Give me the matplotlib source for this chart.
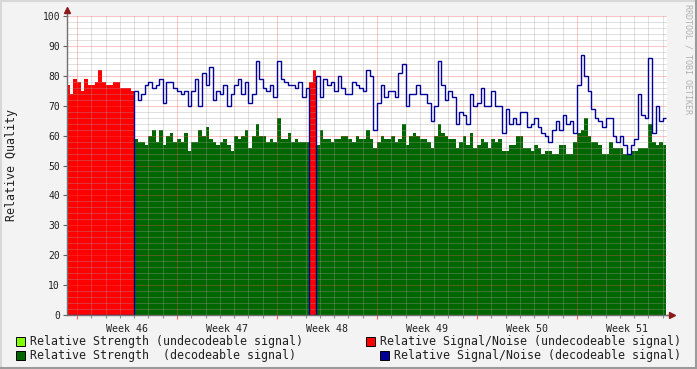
import numpy as np
import matplotlib
matplotlib.use('Agg')
import matplotlib.pyplot as plt
import matplotlib.ticker as mticker
from matplotlib.patches import Rectangle
from matplotlib.lines import Line2D

# samples every 6 hours, day 0 = Monday of week 46
T_START = -0.75
STEP = 0.25

snr = [
    77, 74, 79, 78, 75, 79, 77, 77, 78, 82, 78, 77, 77, 78, 78, 76, 76, 76, 75,
    75, 72, 74, 77, 78, 76, 77, 79, 71, 78, 78, 76, 75, 74, 75, 70, 75, 79, 70, 81,
    77, 83, 72, 75, 74, 77, 70, 74, 77, 79, 74, 78, 71, 74, 85, 79, 76, 75, 77, 73,
    85, 79, 78, 77, 77, 76, 78, 73, 76, 78, 82, 80, 73, 79, 77, 78, 75, 80, 76, 74,
    74, 78, 77, 76, 75, 82, 80, 62, 71, 77, 73, 75, 75, 73, 81, 84, 70, 74, 74, 77,
    74, 74, 71, 65, 70, 85, 77, 72, 75, 73, 64, 68, 67, 64, 74, 70, 71, 76, 70, 70,
    75, 70, 70, 61, 69, 64, 66, 64, 68, 68, 63, 64, 66, 63, 61, 60, 58, 62, 65, 62,
    67, 64, 65, 61, 77, 87, 80, 75, 69, 66, 65, 63, 66, 66, 60, 58, 60, 57, 54, 57,
    59, 74, 67, 66, 86, 61, 70, 65, 66,
]

strength = [
    57, 57, 57, 57, 57, 57, 57, 57, 57, 57, 57, 57, 57, 57, 57, 57, 57, 57, 57,
    59, 58, 58, 57, 60, 62, 58, 62, 57, 60, 61, 58, 59, 58, 61, 55, 58, 58, 62, 60,
    63, 59, 58, 57, 58, 59, 57, 55, 60, 59, 60, 62, 56, 60, 64, 60, 60, 58, 59, 58,
    66, 59, 59, 61, 58, 59, 58, 58, 58, 58, 58, 57, 62, 59, 59, 58, 59, 59, 60, 60,
    59, 58, 60, 59, 59, 62, 59, 56, 58, 60, 59, 59, 60, 58, 59, 64, 57, 60, 61, 60,
    59, 59, 58, 56, 60, 64, 61, 60, 59, 59, 56, 58, 60, 57, 61, 56, 57, 59, 58, 56,
    59, 58, 59, 55, 55, 57, 57, 60, 60, 56, 56, 55, 57, 56, 54, 55, 55, 54, 54, 57,
    57, 54, 54, 58, 61, 62, 66, 60, 58, 58, 57, 54, 54, 58, 56, 56, 56, 54, 54, 55,
    55, 56, 56, 56, 64, 58, 57, 58, 57,
]

# time spans (days) where the signal could not be decoded
undecodeable_spans = [(-0.75, 4.0), (16.25, 16.75)]

weeks = [46, 47, 48, 49, 50, 51]

LIGHT_GREEN = '#80ff00'
DARK_GREEN = '#006600'
RED = '#ff0000'
NAVY = '#000099'
BG = '#f3f3f3'
FONT = 'DejaVu Sans Mono'

snr = np.array(snr, dtype=float)
strength = np.array(strength, dtype=float)
edges = T_START + STEP * np.arange(len(snr) + 1)
t = edges[:-1]
undec = np.zeros(len(t), dtype=bool)
for lo, hi in undecodeable_spans:
    undec |= (t >= lo) & (t < hi)

fig = plt.figure(figsize=(6.97, 3.69), dpi=100)
fig.set_facecolor(BG)

W, H = 697.0, 369.0
left, right, top, bottom = 67, 667, 16, 315
ax = fig.add_axes([left / W, 1 - bottom / H, (right - left) / W, (bottom - top) / H])
ax.set_facecolor('white')

# areas and line
ax.stairs(np.where(undec, strength, 0), edges, fill=True, color=LIGHT_GREEN, zorder=1)
ax.stairs(np.where(undec, snr, 0), edges, fill=True, color=RED, zorder=2)
ax.stairs(np.where(undec, 0, strength), edges, fill=True, color=DARK_GREEN, zorder=2)
ax.stairs(np.where(undec, 0, snr), edges, baseline=None, color=NAVY, lw=1.0, zorder=3)

x_lo = (left - 77) * 0.07
x_hi = (right - 77) * 0.07
ax.set_xlim(x_lo, x_hi)
ax.set_ylim(0, 100)

# grid on top of the data, like rrdtool
ax.set_axisbelow(False)
ax.xaxis.set_major_locator(mticker.MultipleLocator(7))
ax.xaxis.set_minor_locator(mticker.MultipleLocator(1))
ax.yaxis.set_major_locator(mticker.MultipleLocator(10))
ax.yaxis.set_minor_locator(mticker.MultipleLocator(2))
ax.grid(which='minor', color='#a0a0a0', alpha=0.65, lw=0.72, ls=(0, (1, 1)), zorder=4)
ax.grid(which='major', color='#ff5050', alpha=0.65, lw=0.72, ls=(0, (1, 1)), zorder=4)

ax.xaxis.set_major_formatter(mticker.NullFormatter())
ax.tick_params(axis='x', which='major', length=3, color='#ff6060', direction='out', width=0.8)
ax.tick_params(axis='x', which='minor', length=2, color='#909090', direction='out', width=0.8)
ax.tick_params(axis='y', which='major', length=3, color='#606060', direction='out', width=0.8,
               labelsize=7, labelcolor='#202020', pad=2)
ax.tick_params(axis='y', which='minor', length=0)
for lab in ax.get_yticklabels():
    lab.set_fontfamily(FONT)

for s in ['top', 'right']:
    ax.spines[s].set_visible(False)
for s in ['left', 'bottom']:
    ax.spines[s].set_color('#707070')
    ax.spines[s].set_linewidth(1.0)
    ax.spines[s].set_zorder(5)

# week labels in the middle of each week
for i, wk in enumerate(weeks):
    ax.text(3.5 + 7 * i, -0.03, f"Week {wk}", transform=ax.get_xaxis_transform(),
            ha='center', va='top', fontsize=7.2, fontfamily=FONT, color='#202020')

# axis arrows
ax.plot([0, 0], [1.0, 1.02], transform=ax.transAxes, color='#707070', lw=1, clip_on=False)
ax.plot([0], [1.02], transform=ax.transAxes, marker='^', ms=4, color='#8b1a1a',
        clip_on=False, zorder=6)
ax.plot([1.0, 1.008], [0, 0], transform=ax.transAxes, color='#707070', lw=1, clip_on=False)
ax.plot([1.008], [0], transform=ax.transAxes, marker='>', ms=4, color='#8b1a1a',
        clip_on=False, zorder=6)

# y label and watermark
fig.text(12 / W, 1 - 165 / H, "Relative Quality", rotation=90, ha='center', va='center',
         fontsize=8.4, fontfamily=FONT, color='#202020')
fig.text(688 / W, 1 - 4 / H, "RRDTOOL / TOBI OETIKER", rotation=270, ha='center', va='top',
         fontsize=6, fontfamily=FONT, color='#b0b0b0')

# legend
legend_rows = [
    (16, 341, LIGHT_GREEN, "Relative Strength (undecodeable signal)"),
    (16, 355, DARK_GREEN, "Relative Strength  (decodeable signal)"),
    (366, 341, RED, "Relative Signal/Noise (undecodeable signal)"),
    (380, 355, NAVY, "Relative Signal/Noise (decodeable signal)"),
]
for x0, yc, col, label in legend_rows:
    fig.patches.append(Rectangle((x0 / W, 1 - (yc + 4.5) / H), 9 / W, 9 / H,
                                 transform=fig.transFigure, facecolor=col,
                                 edgecolor='black', lw=0.7))
    fig.text((x0 + 14) / W, 1 - yc / H, label, ha='left', va='center',
             fontsize=8.35, fontfamily=FONT, color='#202020')

# 3d-ish frame
fig.lines.append(Line2D([0, 1], [1 - 1 / H, 1 - 1 / H], transform=fig.transFigure,
                        color='#d8d8d8', lw=1.5))
fig.lines.append(Line2D([1 / W, 1 / W], [0, 1], transform=fig.transFigure,
                        color='#d8d8d8', lw=1.5))
fig.lines.append(Line2D([1 - 1.5 / W, 1 - 1.5 / W], [0, 1], transform=fig.transFigure,
                        color='#9a9a9a', lw=2.2))
fig.lines.append(Line2D([0, 1], [1.5 / H, 1.5 / H], transform=fig.transFigure,
                        color='#9a9a9a', lw=2.2))

fig.savefig('out.png', dpi=100, facecolor=BG)
